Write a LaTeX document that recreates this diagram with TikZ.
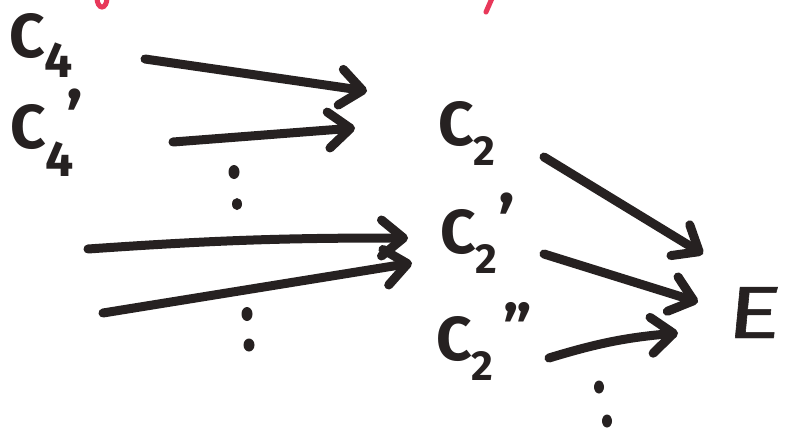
\documentclass[tikz,border=0pt]{standalone}
\usepackage{fontspec}
\setmainfont{Fira Sans}
\newfontfamily\efont{Fira Sans}[FakeBold=0.6, FakeSlant=0.07]
\usetikzlibrary{arrows.meta}
\definecolor{ink}{RGB}{38,33,33}
\definecolor{redink}{RGB}{232,56,90}
\tikzset{
  lbl/.style={inner sep=0pt, anchor=base west, text=ink, font=\bfseries\fontsize{62}{62}\selectfont},
  arr/.style={draw=ink, line width=9pt, line cap=round, line join=round,
    -{Straight Barb[length=22pt,width=36pt,round]}},
  dot/.style={fill=ink, draw=none},
  redmark/.style={draw=redink, line width=5pt, line cap=round}
}
% subscript digit: #1 lowering, #2 size, #3 digit
\newcommand{\subd}[3]{\raisebox{#1}{\fontsize{#2}{#2}\selectfont #3}}
% prime mark: #1 raise, #2 shift right, #3 size, #4 glyph
\newcommand{\prm}[4]{\rlap{\hspace{#2}\smash{\raisebox{#1}{\fontsize{#3}{#3}\selectfont #4}}}}
\begin{document}
\begin{tikzpicture}[x=1pt,y=-1pt]
\useasboundingbox[fill=white] (0,0) rectangle (787,432);
% red fragments at the top edge
\draw[redmark] (102,-2) ellipse [x radius=5, y radius=9];
\draw[redmark] (493,-4) .. controls (490,4) .. (486,12);
% labels
\node[lbl] (c4) at (9,57) {C\subd{-20pt}{50}{4}};
\node[lbl] (c4p) at (10,148) {C\subd{-28pt}{50}{\prm{34pt}{21pt}{70}{\textquoteright}4}};
\node[lbl] (c2) at (438,145) {C\subd{-20pt}{42}{2}};
\node[lbl] (c2p) at (440,253) {C\subd{-20pt}{42}{\prm{27pt}{23pt}{70}{\textquoteright}2}};
\node[lbl] (c2pp) at (436,360) {C\subd{-20pt}{42}{\prm{29pt}{32pt}{64}{\textquotedblright}2}};
\node[inner sep=0pt, anchor=base west, text=ink, font=\efont\fontsize{74}{74}\selectfont] (E) at (725,338) {\scalebox{1.36}[1]{E}};
% arrow end points
\coordinate (a1s) at (145,59);  \coordinate (a1e) at (367,91);
\coordinate (a2s) at (173,142); \coordinate (a2e) at (355,128);
\coordinate (a3s) at (88,249);  \coordinate (a3e) at (408,238);
\coordinate (a4s) at (103,313); \coordinate (a4e) at (412,263);
\coordinate (a5s) at (544,157); \coordinate (a5e) at (703,254);
\coordinate (a6s) at (544,254); \coordinate (a6e) at (698,302);
\coordinate (a7s) at (549,358); \coordinate (a7e) at (678,333);
% arrows
\draw[arr] (a1s) -- (a1e);
\draw[arr] (a2s) -- (a2e);
\draw[arr] (a3s) to[bend left=2] (a3e);
\draw[arr] (a4s) -- (a4e);
\draw[arr] (a5s) -- (a5e);
\draw[arr] (a6s) -- (a6e);
\draw[arr] (a7s) to[bend left=6] (a7e);
% ellipsis dots
\fill[dot] (234,172) ellipse [x radius=5.5, y radius=7];
\fill[dot] (237,204) ellipse [x radius=5, y radius=6];
\fill[dot] (247,314) ellipse [x radius=5.5, y radius=7];
\fill[dot] (249,345) ellipse [x radius=5.5, y radius=6.5];
\fill[dot] (599,387) ellipse [x radius=5, y radius=6.5];
\fill[dot] (607,421) ellipse [x radius=5, y radius=6.5];
\end{tikzpicture}
\end{document}
